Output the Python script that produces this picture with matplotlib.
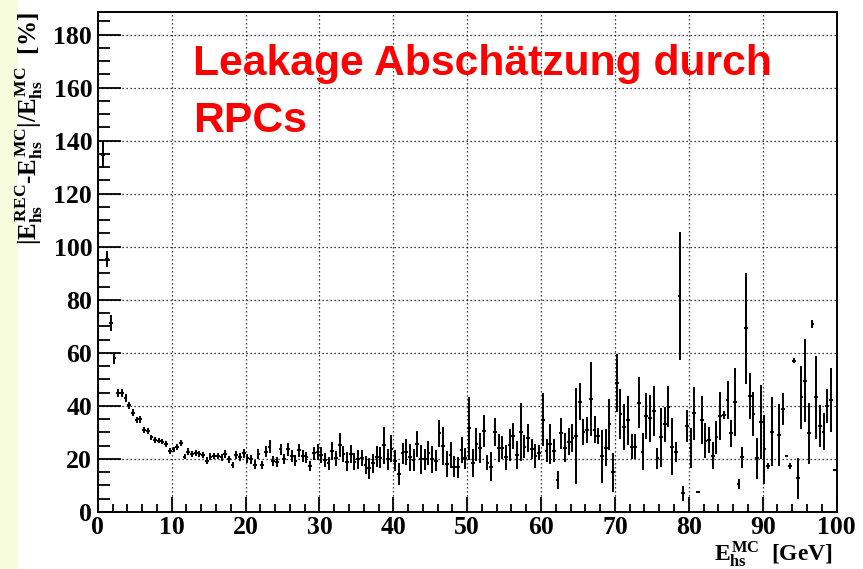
import numpy as np
import matplotlib.pyplot as plt
from matplotlib.ticker import MultipleLocator
from matplotlib.patches import Rectangle

plt.rcParams['font.family'] = 'Liberation Serif'
plt.rcParams['font.weight'] = 'bold'
plt.rcParams['mathtext.fontset'] = 'custom'
plt.rcParams['mathtext.rm'] = 'Liberation Serif:bold'
plt.rcParams['mathtext.it'] = 'Liberation Serif:bold'
plt.rcParams['mathtext.bf'] = 'Liberation Serif:bold'

# 200 bins of 0.5 GeV from 0 to 100
bin_width = 0.5
e_mc = np.arange(200) * bin_width + bin_width / 2

nan = np.nan
# relative deviation |E_rec - E_mc| / E_mc in %
rel_dev = [
    nan, 134.5, 95.5, 71.1, 57.9, 44.7, 44.7, 42.8, 40.3, 37.4,
    34.7, 34.9, 30.9, 30.6, 28.1, 27.1, 26.9, 26.5, 25.6, 23.0,
    23.6, 24.6, 25.9, 20.9, 22.8, 21.9, 22.1, 21.9, 21.4, 19.4,
    20.9, 21.1, 21.1, 20.6, 21.9, 19.9, 17.7, 21.4, 20.9, 22.1,
    20.2, 19.8, 17.9, 21.9, 17.7, 22.8, 24.6, 19.3, 18.9, 23.6,
    20.0, 23.6, 21.1, 19.4, 23.2, 21.1, 20.6, 17.3, 22.1, 22.7,
    21.5, 19.6, 18.3, 23.0, 20.2, 25.2, 21.8, 19.0, 21.8, 19.0,
    19.8, 20.2, 17.7, 16.4, 18.3, 20.8, 20.5, 25.2, 19.8, 23.9,
    19.3, 14.3, 22.1, 22.7, 20.6, 19.6, 25.6, 19.8, 19.8, 22.1,
    19.8, 19.3, 29.6, 24.9, 18.1, 21.5, 17.1, 16.8, 23.4, 20.3,
    31.5, 18.6, 25.5, 24.2, 30.6, 18.6, 17.1, 30.2, 24.0, 24.3,
    20.6, 25.2, 28.6, 21.5, 30.2, 24.6, 27.8, 23.6, 21.1, 22.3,
    34.7, 23.1, 25.6, 23.1, 12.1, 29.6, 24.3, 26.5, 27.8, 28.6,
    41.6, 30.2, 30.9, 42.6, 31.1, 28.6, 21.1, 24.2, 33.0, 14.9,
    48.7, 37.0, 32.1, 34.5, 24.6, 24.6, 41.2, 22.7, 36.2, 35.3,
    38.0, 20.2, 28.1, 33.1, 39.7, 24.6, 22.7, 81.4, 7.0, 32.4,
    24.0, 37.2, 7.6, 34.8, 26.9, 27.1, 21.3, 28.1, 36.2, 36.5,
    42.2, 29.6, 41.5, 10.5, 20.6, 69.2, 43.7, 36.9, 20.2, 34.0,
    23.6, 17.3, 30.3, nan, 29.0, 38.7, 21.3, 17.3, 57.0, 12.7,
    43.2, 49.5, 29.6, 70.8, 43.2, 32.4, 30.3, 39.9, 42.2, 15.8,
]
rel_dev_err = [
    0, 5, 3, 3, 2, 1.5, 1.5, 1.5, 1.3, 1.3,
    1.2, 1.2, 1.1, 1.1, 1.0, 1.0, 1.0, 1.0, 1.0, 1.0,
    1.0, 1.1, 1.2, 1.0, 1.2, 1.1, 1.1, 1.2, 1.2, 1.2,
    1.2, 1.3, 1.3, 1.3, 1.5, 1.4, 1.3, 1.5, 1.5, 1.6,
    1.6, 1.6, 1.6, 1.8, 1.6, 2.0, 2.5, 1.8, 1.8, 2.2,
    2.0, 2.5, 2.2, 2.0, 2.5, 2.2, 2.2, 2.0, 2.5, 3.0,
    3.0, 2.5, 2.5, 3.5, 2.8, 4.5, 3.0, 3.5, 3.5, 3.2,
    3.5, 3.0, 3.5, 4.0, 3.5, 4.0, 4.0, 7.0, 4.0, 5.0,
    4.0, 4.0, 4.0, 5.0, 5.0, 4.0, 5.0, 5.5, 4.0, 4.5,
    5.0, 4.0, 5.0, 7.0, 5.0, 5.0, 4.0, 4.0, 5.0, 4.0,
    12, 5.3, 6.3, 5.6, 6.0, 2.8, 5.6, 5.3, 5.3, 4.5,
    4.7, 6.0, 5.0, 5.3, 11, 4.4, 5.3, 3.8, 4.4, 2.8,
    10, 4.4, 7.5, 4.4, 3.3, 5.8, 5.6, 5.0, 5.3, 18,
    7.0, 5.0, 5.0, 14, 5.0, 3.0, 10, 7.0, 9.7, 7.5,
    11, 9.4, 8.8, 9.4, 4.7, 4.7, 9.7, 6.9, 8.6, 8.9,
    9.4, 4.0, 11, 6.6, 7.8, 10.7, 3.8, 24, 2.8, 6.0,
    7.5, 10, 0, 9.0, 6.6, 5.0, 5.0, 6.3, 9.0, 1.5,
    7.2, 5.0, 12.9, 2.0, 4.0, 21, 8.8, 8.3, 7.8, 14,
    13, 1.0, 13, 0, 11.6, 6.0, 0, 1.0, 1.0, 7.8,
    12, 15.7, 11.6, 1.5, 15.7, 8.0, 7.0, 6.3, 12, 0,
]

fig = plt.figure(figsize=(8.63, 5.69), dpi=100)
fig.patch.set_facecolor('white')
fig.patches.append(Rectangle((0, 0), 18 / 863, 1, transform=fig.transFigure,
                             facecolor='#f8fcdf', edgecolor='none', zorder=-1))

ax = fig.add_axes([97.8 / 863, 1 - 512 / 569, (836.5 - 97.8) / 863, (512 - 12) / 569])

ax.errorbar(e_mc, rel_dev, xerr=bin_width / 2, yerr=rel_dev_err, fmt='none',
            ecolor='black', elinewidth=1.4, capsize=0)

ax.set_xlim(0, 100)
ax.set_ylim(0, 188.5)
ax.xaxis.set_major_locator(MultipleLocator(10))
ax.xaxis.set_minor_locator(MultipleLocator(2))
ax.yaxis.set_major_locator(MultipleLocator(20))
ax.yaxis.set_minor_locator(MultipleLocator(5))

ax.grid(True, which='major', color='black', linestyle=(0, (1, 2.2)), linewidth=0.9)
ax.tick_params(axis='x', which='major', direction='in', length=11, width=1.3, labelsize=18.5, pad=3)
ax.tick_params(axis='x', which='minor', direction='in', length=5.5, width=1.3)
ax.tick_params(axis='y', which='major', direction='in', length=16.5, width=1.3, labelsize=18.5, pad=4)
ax.tick_params(axis='y', which='minor', direction='in', length=8.5, width=1.3)
for s in ax.spines.values():
    s.set_linewidth(1.4)

ax.set_xlabel(r'$E^{MC}_{hs}$  [GeV]', fontsize=17, fontweight='bold', ha='right', va='baseline')
ax.xaxis.set_label_coords((833 - 97.8) / 738.7, -(561 - 512) / 500)
ax.set_ylabel(r'$|E^{REC}_{hs}$-$E^{MC}_{hs}|/E^{MC}_{hs}$  [%]', fontsize=18,
              fontweight='bold', ha='right', va='center')
ax.yaxis.set_label_coords((29 - 97.8) / 738.7, 1.0)

title_lines = ['Leakage Abschätzung durch', 'RPCs']
for line, base_px in zip(title_lines, [75, 132]):
    fig.text(193 / 863, 1 - base_px / 569, line, color='#ff0000', fontsize=30.7,
             fontweight='bold', family='Liberation Sans', ha='left', va='baseline')

fig.savefig('out.png', dpi=100)
